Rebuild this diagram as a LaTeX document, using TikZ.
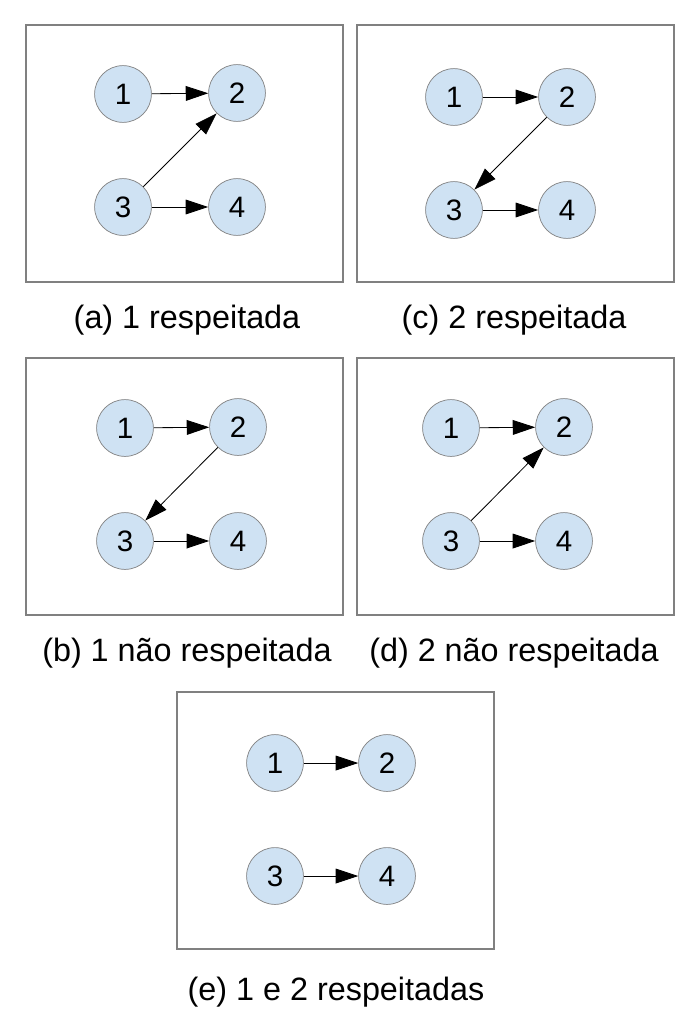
\documentclass[tikz,border=0pt]{standalone}
\usepackage{fontspec}
\setmainfont{Liberation Sans}
\usetikzlibrary{arrows.meta}
\definecolor{nodeblue}{RGB}{207,226,243}
\definecolor{framegray}{RGB}{128,128,128}

\begin{document}
\begin{tikzpicture}[x=0.025cm, y=-0.025cm,
    vertex/.style={circle, draw=framegray, line width=0.5pt, fill=nodeblue, minimum size=1.42cm, inner sep=0pt, font=\fontsize{21}{25}\selectfont},
    frame/.style={draw=framegray, line width=1.4pt},
    caption/.style={font=\fontsize{23}{28}\selectfont},
    arr/.style={-{Triangle[length=16pt,width=10.5pt]}, line width=0.6pt}]
    \useasboundingbox (0,0) rectangle (698,1031);

    % Frames
    \draw[frame] (26,25) rectangle (343,282);   % (a)
    \draw[frame] (357,25) rectangle (674,282);  % (c)
    \draw[frame] (26,358) rectangle (343,615);  % (b)
    \draw[frame] (357,358) rectangle (674,615); % (d)
    \draw[frame] (177,692) rectangle (494,949); % (e)

    % Panel (a)
    \node[vertex] (a1) at (123,94) {1};
    \node[vertex] (a2) at (237,93) {2};
    \node[vertex] (a3) at (123,207) {3};
    \node[vertex] (a4) at (237,207) {4};
    \draw[arr] (a1) -- (a2);
    \draw[arr] (a3) -- (a2);
    \draw[arr] (a3) -- (a4);
    \node[caption] (capa) at (187,320) {(a) 1 respeitada};

    % Panel (c)
    \node[vertex] (c1) at (454,97) {1};
    \node[vertex] (c2) at (567,97) {2};
    \node[vertex] (c3) at (454,210) {3};
    \node[vertex] (c4) at (567,210) {4};
    \draw[arr] (c1) -- (c2);
    \draw[arr] (c2) -- (c3);
    \draw[arr] (c3) -- (c4);
    \node[caption] (capc) at (514,320) {(c) 2 respeitada};

    % Panel (b)
    \node[vertex] (b1) at (125,428) {1};
    \node[vertex] (b2) at (238,427) {2};
    \node[vertex] (b3) at (125,541) {3};
    \node[vertex] (b4) at (238,541) {4};
    \draw[arr] (b1) -- (b2);
    \draw[arr] (b2) -- (b3);
    \draw[arr] (b3) -- (b4);
    \node[caption] (capb) at (187,653) {(b) 1 não respeitada};

    % Panel (d)
    \node[vertex] (d1) at (451,428) {1};
    \node[vertex] (d2) at (564,427) {2};
    \node[vertex] (d3) at (451,541) {3};
    \node[vertex] (d4) at (564,541) {4};
    \draw[arr] (d1) -- (d2);
    \draw[arr] (d3) -- (d2);
    \draw[arr] (d3) -- (d4);
    \node[caption] (capd) at (514,653) {(d) 2 não respeitada};

    % Panel (e)
    \node[vertex] (e1) at (275,763) {1};
    \node[vertex] (e2) at (387,763) {2};
    \node[vertex] (e3) at (275,876) {3};
    \node[vertex] (e4) at (387,876) {4};
    \draw[arr] (e1) -- (e2);
    \draw[arr] (e3) -- (e4);
    \node[caption] (cape) at (336,992) {(e) 1 e 2 respeitadas};
\end{tikzpicture}
\end{document}
